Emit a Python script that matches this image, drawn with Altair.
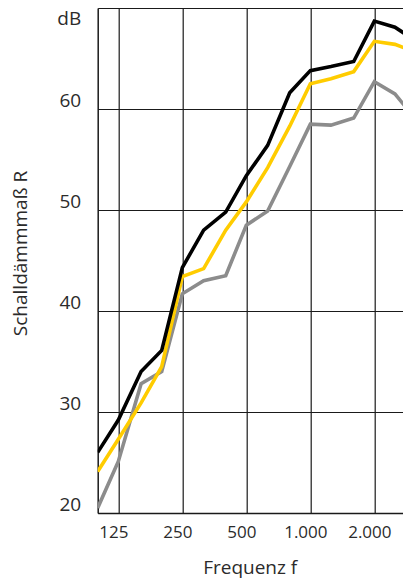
import altair as alt
import pandas as pd

freqs = [100, 125, 160, 200, 250, 315, 400, 500, 630, 800, 1000, 1250, 1600, 2000, 2500, 3150]
black = [26.0, 29.2, 34.0, 36.1, 44.3, 48.0, 49.8, 53.4, 56.4, 61.6, 63.8, 64.2, 64.7, 68.7, 68.1, 66.7]
yellow = [24.1, 27.3, 30.9, 34.5, 43.4, 44.2, 48.0, 50.8, 54.2, 58.3, 62.5, 63.0, 63.7, 66.7, 66.4, 65.6]
gray = [20.5, 25.1, 32.8, 34.0, 41.7, 43.0, 43.5, 48.5, 49.9, 54.3, 58.5, 58.4, 59.1, 62.7, 61.5, 58.9]

series_names = ["grau", "gelb", "schwarz"]
series_values = [gray, yellow, black]
series_colors = ["#8c8c8c", "#ffcc00", "#000000"]

x_ticks = [125, 250, 500, 1000, 2000]
x_tick_labels = ["125", "250", "500", "1.000", "2.000"]
y_ticks = [20, 30, 40, 50, 60, 70]
y_top_label = "dB"

rows = []
for name, vals in zip(series_names, series_values):
    for f, v in zip(freqs, vals):
        rows.append({"f": f, "R": v, "serie": name})
df = pd.DataFrame(rows)

x_label_expr = " : ".join(
    [f"datum.value == {v} ? '{l}'" for v, l in zip(x_ticks, x_tick_labels)] + ["datum.label"]
)

FONT = "Open Sans"
TXT = "#2b2b2b"
GRID = "#1a1a1a"

x_enc = alt.X(
    "f:Q",
    scale=alt.Scale(type="log", domain=[100, 2728], nice=False),
    axis=alt.Axis(
        values=x_ticks,
        labelExpr=x_label_expr,
        grid=True,
        gridColor=GRID,
        gridWidth=1.2,
        gridOpacity=1,
        domainColor=GRID,
        domainWidth=1.5,
        ticks=False,
        labelFont=FONT,
        labelFontSize=17,
        labelColor=TXT,
        labelPadding=11,
        labelBaseline="top",
        labelOffset=-5,
        title="Frequenz f",
        titleFont=FONT,
        titleFontSize=19,
        titleFontWeight="normal",
        titleColor=TXT,
        titleX=152,
        titleY=60,
        titleAlign="center",
        titleBaseline="alphabetic",
    ),
)

y_enc = alt.Y(
    "R:Q",
    scale=alt.Scale(domain=[20, 70], nice=False, zero=False),
    axis=alt.Axis(
        values=y_ticks,
        labelExpr=f"datum.value == 70 ? '{y_top_label}' : datum.label",
        grid=True,
        gridColor=GRID,
        gridWidth=1.2,
        gridOpacity=1,
        domainColor=GRID,
        domainWidth=1.5,
        ticks=False,
        labelFont=FONT,
        labelFontSize=19,
        labelColor=TXT,
        labelPadding=17,
        labelBaseline={"condition": {"test": "datum.value == 70", "value": "top"}, "value": "alphabetic"},
        labelOffset={"condition": {"test": "datum.value == 70", "value": 1}, "value": -3},
        title="Schalldämmmaß R",
        titleFont=FONT,
        titleFontSize=19,
        titleFontWeight="normal",
        titleColor=TXT,
        titleX=-77,
        titleY=245,
        titleAlign="center",
        titleBaseline="middle",
    ),
)

base = alt.Chart(df).encode(x=x_enc, y=y_enc)

layers = []
for name, col in zip(series_names, series_colors):
    layers.append(
        base.transform_filter(alt.datum.serie == name).mark_line(
            clip=True, strokeWidth=3.6, color=col, strokeJoin="miter"
        )
    )

chart = (
    alt.layer(*layers)
    .properties(
        width=305.3,
        height=505,
        autosize=alt.AutoSizeParams(type="none"),
        padding={"left": 89.7, "top": 0, "right": 0, "bottom": 67},
    )
    .configure_view(strokeWidth=0)
)

chart.save("out.html", embed_options={"renderer": "svg", "actions": False})
